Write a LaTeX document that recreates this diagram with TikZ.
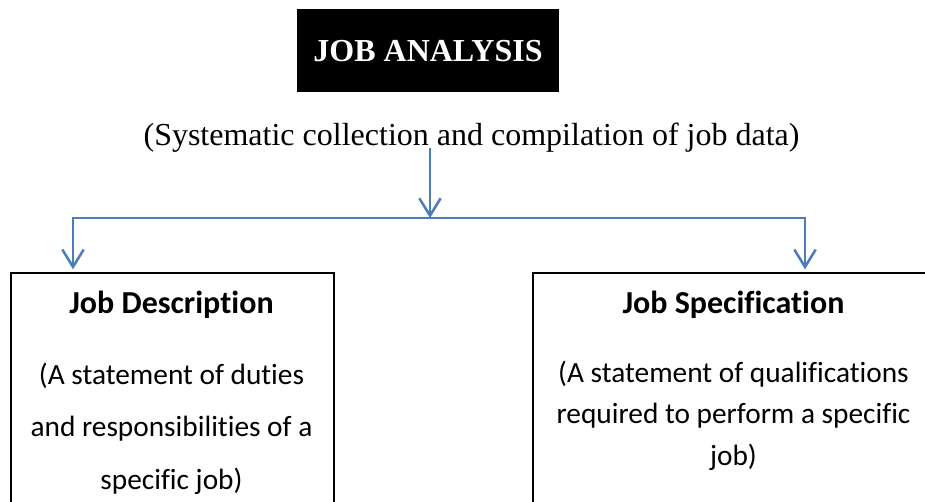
\documentclass[tikz,border=0pt]{standalone}
\usepackage{fontspec}
\setmainfont{Liberation Serif}
\newfontfamily\calibri[Ligatures=NoCommon]{Carlito}
\usetikzlibrary{arrows.meta,positioning}
\definecolor{linkblue}{RGB}{74,126,187}

\begin{document}
\begin{tikzpicture}[x=0.75pt,y=-0.75pt,>={Straight Barb[length=13pt,width=16pt]}]
\useasboundingbox (0,0) rectangle (925,502);
\clip (0,0) rectangle (925,502);
\tikzset{
  heading/.style={fill=black, text=white, font=\bfseries\fontsize{24}{28}\selectfont,
    minimum width=196.5pt, minimum height=62.25pt, inner sep=0pt},
  frame/.style={draw=black, line width=1.2pt, anchor=north west, inner sep=0pt},
  boxtitle/.style={font=\calibri\bfseries\fontsize{24}{28}\selectfont, anchor=base, inner sep=0pt},
  boxtext/.style={font=\calibri\fontsize{22}{#1}\selectfont, align=center, anchor=base, inner sep=0pt},
  link/.style={draw=linkblue, line width=1.9pt}
}
\node[heading] (analysis) at (428,51) {JOB ANALYSIS};
\node[font=\fontsize{24}{28}\selectfont, anchor=base, inner sep=0pt] (purpose) at (471.5,146)
  {(Systematic collection and compilation of job data)};

\node[frame, minimum width=242.25pt, minimum height=225pt] (descbox) at (10,272) {};
\node[frame, minimum width=302.25pt, minimum height=225pt] (specbox) at (532,272) {};

% multi-line texts sit on the baseline of their last line
\node[boxtitle] (desctitle) at (171.5,314) {Job Description};
\node[boxtitle] (spectitle) at (733.5,314) {Job Specification};
\node[boxtext=39.4pt] (desctext) at (171.5,489.5)
  {(A statement of duties\\ and responsibilities of a\\ specific job)};
\node[boxtext=31.1pt] (spectext) at (733.5,465)
  {(A statement of qualifications\\ required to perform a specific\\ job)};

\coordinate (fromtop) at (430,148);
\coordinate (split) at (430,218);
\coordinate (leftdrop) at (73,218);
\coordinate (rightdrop) at (805,218);
\draw[link,->] (fromtop) -- (split);
\draw[link,->,shorten >=2pt] (split) -- (leftdrop) -- (leftdrop |- descbox.north);
\draw[link,->,shorten >=2pt] (split) -- (rightdrop) -- (rightdrop |- specbox.north);
\end{tikzpicture}
\end{document}
